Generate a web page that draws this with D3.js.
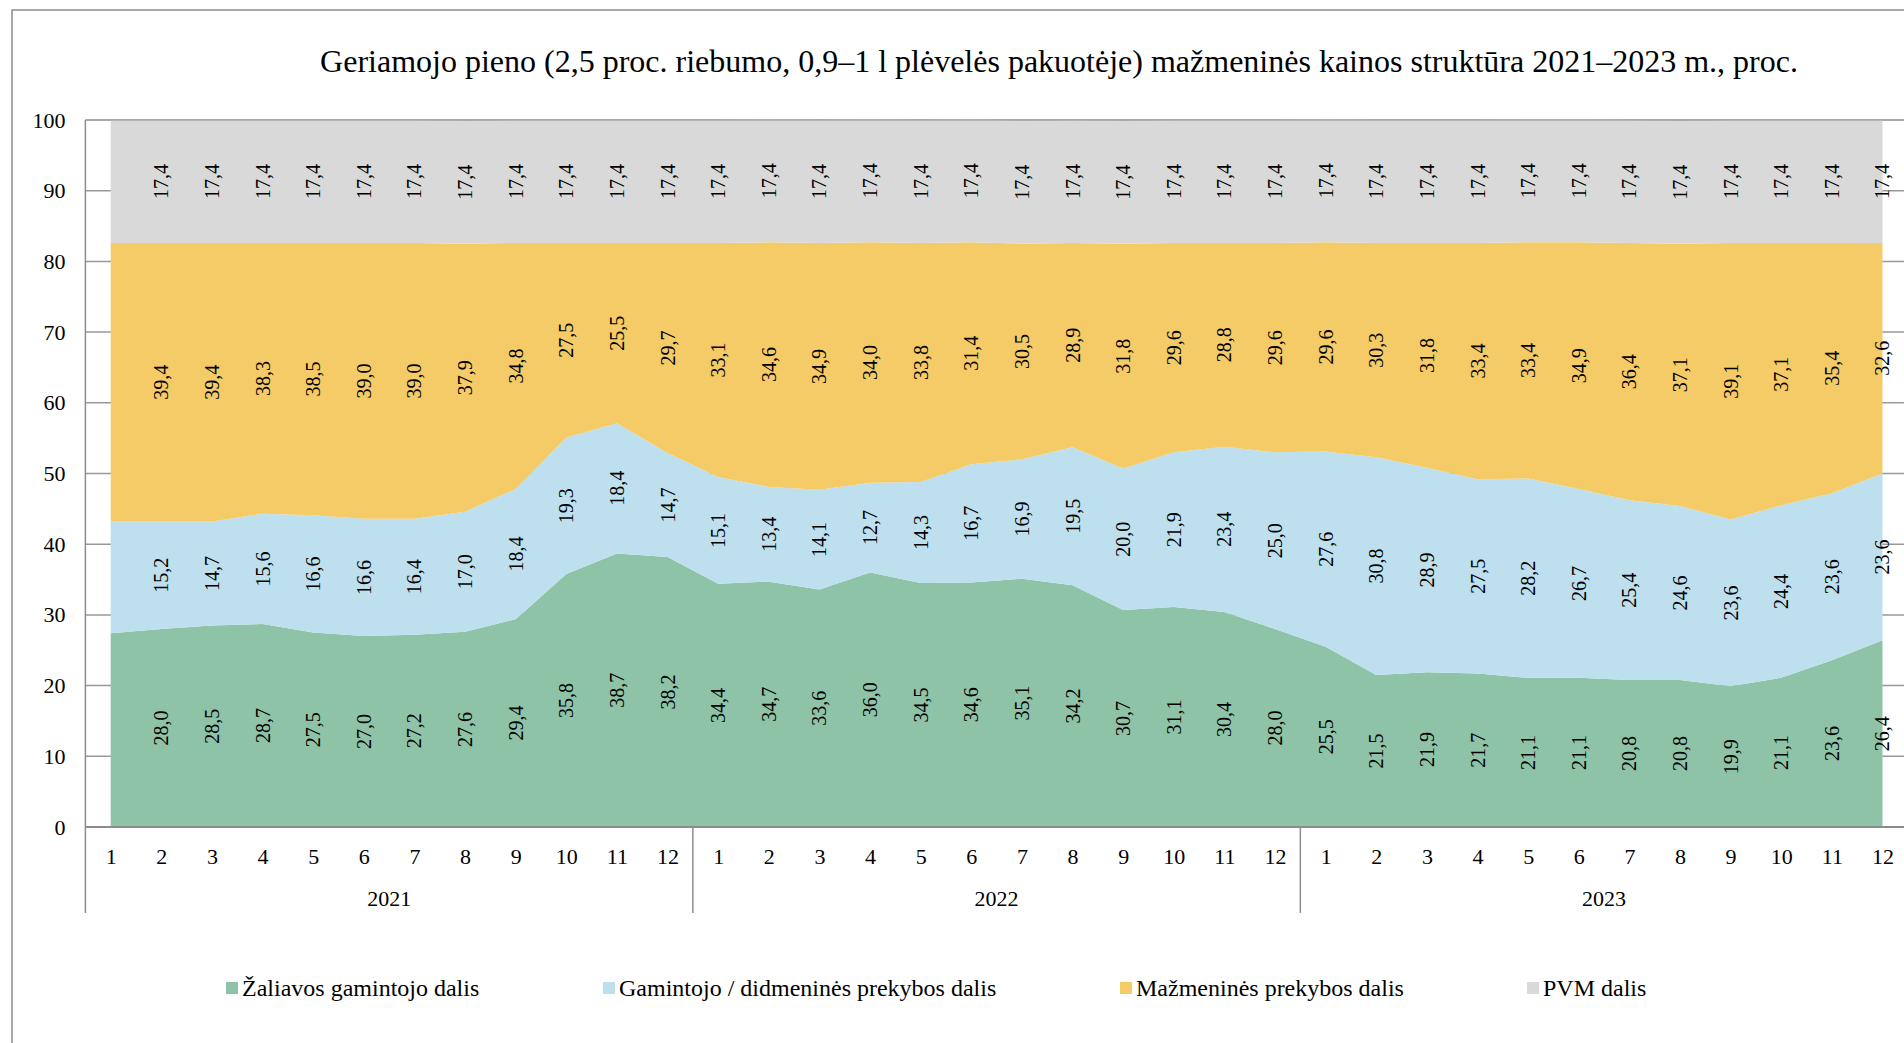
<!DOCTYPE html>
<html>
<head>
<meta charset="utf-8">
<script src="https://cdnjs.cloudflare.com/ajax/libs/d3/7.8.5/d3.min.js"></script>
<style>
  body { margin: 0; background: #fff; }
  svg { display: block; font-family: "Liberation Serif", "Times New Roman", serif; }
  svg text { font-family: "Liberation Serif", "Times New Roman", serif; }
</style>
</head>
<body>
<div id="chart"></div>
<script>
var months = [1,2,3,4,5,6,7,8,9,10,11,12, 1,2,3,4,5,6,7,8,9,10,11,12, 1,2,3,4,5,6,7,8,9,10,11,12];
var years = ["2021", "2022", "2023"];
var seriesNames = ["Žaliavos gamintojo dalis", "Gamintojo / didmeninės prekybos dalis",
  "Mažmeninės prekybos dalis", "PVM dalis"];

// first month of 2021 has no labels in the source, its values are read off the shape
var rawShare = [27.4, 28.0, 28.5, 28.7, 27.5, 27.0, 27.2, 27.6, 29.4, 35.8, 38.7, 38.2,
  34.4, 34.7, 33.6, 36.0, 34.5, 34.6, 35.1, 34.2, 30.7, 31.1, 30.4, 28.0,
  25.5, 21.5, 21.9, 21.7, 21.1, 21.1, 20.8, 20.8, 19.9, 21.1, 23.6, 26.4];
var wholesaleShare = [15.8, 15.2, 14.7, 15.6, 16.6, 16.6, 16.4, 17.0, 18.4, 19.3, 18.4, 14.7,
  15.1, 13.4, 14.1, 12.7, 14.3, 16.7, 16.9, 19.5, 20.0, 21.9, 23.4, 25.0,
  27.6, 30.8, 28.9, 27.5, 28.2, 26.7, 25.4, 24.6, 23.6, 24.4, 23.6, 23.6];
var retailShare = [39.4, 39.4, 39.4, 38.3, 38.5, 39.0, 39.0, 37.9, 34.8, 27.5, 25.5, 29.7,
  33.1, 34.6, 34.9, 34.0, 33.8, 31.4, 30.5, 28.9, 31.8, 29.6, 28.8, 29.6,
  29.6, 30.3, 31.8, 33.4, 33.4, 34.9, 36.4, 37.1, 39.1, 37.1, 35.4, 32.6];
var vatShare = [17.4, 17.4, 17.4, 17.4, 17.4, 17.4, 17.4, 17.4, 17.4, 17.4, 17.4, 17.4,
  17.4, 17.4, 17.4, 17.4, 17.4, 17.4, 17.4, 17.4, 17.4, 17.4, 17.4, 17.4,
  17.4, 17.4, 17.4, 17.4, 17.4, 17.4, 17.4, 17.4, 17.4, 17.4, 17.4, 17.4];
var yTicks = [0, 10, 20, 30, 40, 50, 60, 70, 80, 90, 100];

var colors = ["#8fc3a7", "#bddfee", "#f4cb66", "#d9d9d9"];
var keys = ["raw", "wholesale", "retail", "vat"];

var width = 1904, height = 1043;
var svg = d3.select("#chart").append("svg")
  .attr("width", width).attr("height", height);

// outer frame (runs off the right and bottom of the picture)
svg.append("rect")
  .attr("x", 12).attr("y", 10)
  .attr("width", width).attr("height", height)
  .attr("fill", "none").attr("stroke", "#8c8c8c").attr("stroke-width", 1.5);

svg.append("text")
  .attr("x", 1059).attr("y", 72)
  .attr("text-anchor", "middle")
  .attr("font-size", 32)
  .text("Geriamojo pieno (2,5 proc. riebumo, 0,9–1 l plėvelės pakuotėje) mažmeninės kainos struktūra 2021–2023 m., proc.");

var plotLeft = 85.4, plotRight = 1907.8, plotTop = 120, plotBottom = 827, groupBottom = 913;

var x = d3.scalePoint().domain(d3.range(months.length)).range([plotLeft, plotRight]).padding(0.5);
var y = d3.scaleLinear().domain([0, 100]).range([plotBottom, plotTop]);

var table = months.map(function(m, i) {
  return { raw: rawShare[i], wholesale: wholesaleShare[i], retail: retailShare[i], vat: vatShare[i] };
});
var stacked = d3.stack().keys(keys)(table);

// gridlines, mostly hidden by the areas
svg.append("g").selectAll("line")
  .data(yTicks.filter(function(t) { return t > 0; }))
  .join("line")
  .attr("x1", plotLeft).attr("x2", width)
  .attr("y1", function(d) { return y(d); }).attr("y2", function(d) { return y(d); })
  .attr("stroke", "#999").attr("stroke-width", 1.5);

var area = d3.area()
  .x(function(d, i) { return x(i); })
  .y0(function(d) { return y(d[0]); })
  .y1(function(d) { return y(d[1]); });

svg.append("g").selectAll("path")
  .data(stacked)
  .join("path")
  .attr("fill", function(d, i) { return colors[i]; })
  .attr("d", area);

// top line of the plot
svg.append("line")
  .attr("x1", plotLeft).attr("x2", width)
  .attr("y1", y(100)).attr("y2", y(100))
  .attr("stroke", "#a6a6a6").attr("stroke-width", 1.5);

// value labels, vertical, in the middle of each band
stacked.forEach(function(s) {
  svg.append("g").selectAll("text")
    .data(s.filter(function(d, i) { return i > 0; }))
    .join("text")
    .attr("transform", function(d) {
      var i = s.indexOf(d);
      return "translate(" + (x(i) + 7) + "," + y((d[0] + d[1]) / 2) + ") rotate(-90)";
    })
    .attr("text-anchor", "middle")
    .attr("font-size", 20)
    .text(function(d) { return d3.format(".1f")(d[1] - d[0]).replace(".", ","); });
});

// y axis
var yAxis = svg.append("g")
  .attr("transform", "translate(" + plotLeft + ",0)")
  .call(d3.axisLeft(y).tickValues(yTicks).tickSize(0).tickPadding(20));
yAxis.attr("font-family", null).attr("font-size", 22);
yAxis.select(".domain").remove();
yAxis.selectAll("text").attr("fill", "#000");

svg.append("line")
  .attr("x1", plotLeft).attr("x2", plotLeft).attr("y1", plotTop).attr("y2", groupBottom)
  .attr("stroke", "#8c8c8c").attr("stroke-width", 1.5);

// x axis
var xAxis = svg.append("g")
  .attr("transform", "translate(0," + plotBottom + ")")
  .call(d3.axisBottom(x).tickSize(0).tickPadding(21).tickFormat(function(i) { return months[i]; }));
xAxis.attr("font-family", null).attr("font-size", 22);
xAxis.select(".domain").remove();
xAxis.selectAll("text").attr("fill", "#000");

svg.append("line")
  .attr("x1", plotLeft).attr("x2", width).attr("y1", plotBottom).attr("y2", plotBottom)
  .attr("stroke", "#8c8c8c").attr("stroke-width", 2);

// year groups
svg.append("g").selectAll("line")
  .data(years)
  .join("line")
  .attr("x1", function(d, k) { return x(12 * k + 11) + x.step() / 2; })
  .attr("x2", function(d, k) { return x(12 * k + 11) + x.step() / 2; })
  .attr("y1", plotBottom).attr("y2", groupBottom)
  .attr("stroke", "#8c8c8c").attr("stroke-width", 1.5);

svg.append("g").selectAll("text")
  .data(years)
  .join("text")
  .attr("x", function(d, k) { return (x(12 * k) + x(12 * k + 11)) / 2; })
  .attr("y", 906)
  .attr("text-anchor", "middle")
  .attr("font-size", 22)
  .text(function(d) { return d; });

// legend
var legendX = [226, 603, 1120, 1527];
var legend = svg.append("g").selectAll("g")
  .data(seriesNames)
  .join("g")
  .attr("transform", function(d, i) { return "translate(" + legendX[i] + ",988)"; });
legend.append("rect")
  .attr("x", 0).attr("y", -6).attr("width", 12).attr("height", 12)
  .attr("fill", function(d, i) { return colors[i]; });
legend.append("text")
  .attr("x", 16).attr("y", 8)
  .attr("font-size", 24)
  .text(function(d) { return d; });
</script>
</body>
</html>
